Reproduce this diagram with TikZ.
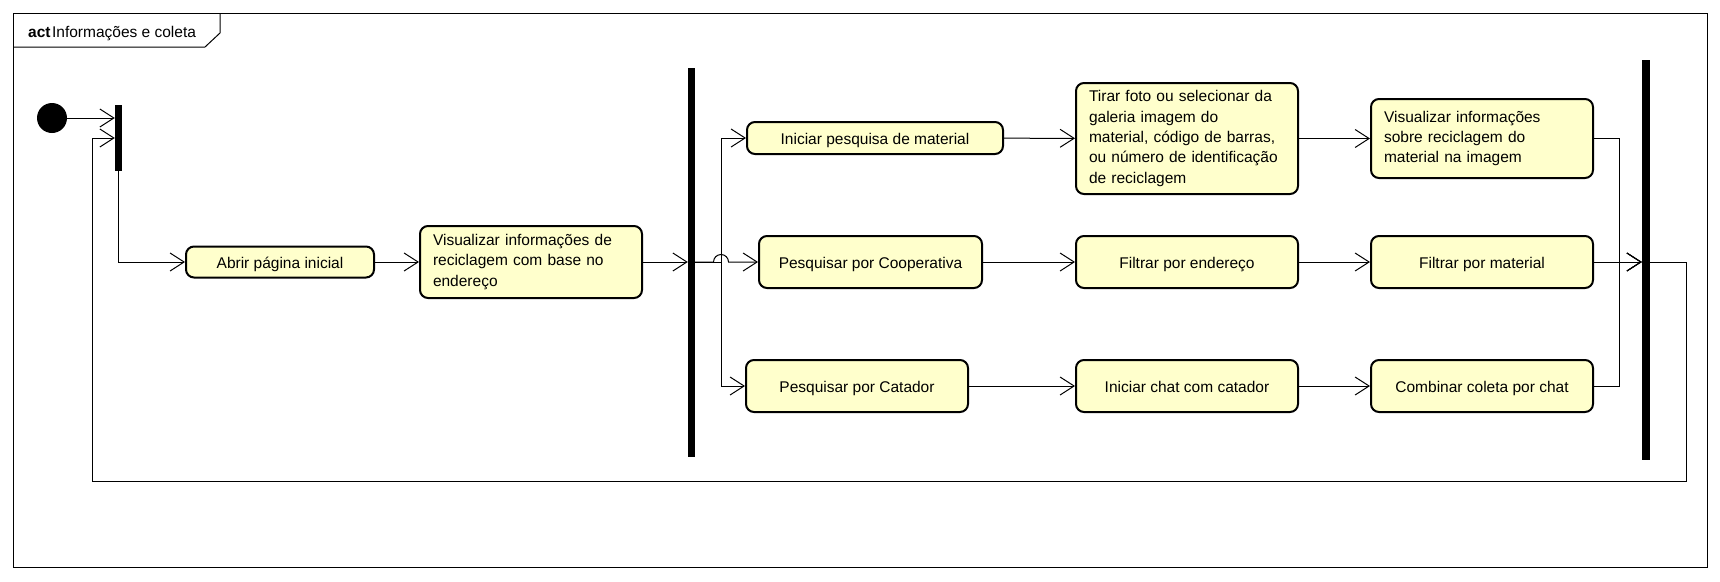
\documentclass[tikz,border=0pt]{standalone}
\usepackage{fontspec}
\setmainfont{Liberation Sans}
\usetikzlibrary{positioning, arrows.meta, calc}
\definecolor{actfill}{HTML}{FFFFCC}
\definecolor{actstroke}{HTML}{000000}

\begin{document}
\begin{tikzpicture}[
    x=1pt, y=-1pt,
    action/.style={
        draw=actstroke, fill=actfill, rounded corners=8pt,
        minimum height=52pt, inner sep=0pt, line width=2pt,
        font=\fontsize{15.5}{20.3}\selectfont, align=center,
        text height=12pt, text depth=0pt
    },
    multi/.style={
        draw=actstroke, fill=actfill, rounded corners=8pt,
        inner sep=0pt, line width=2pt,
        font=\fontsize{15.5}{20.3}\selectfont, align=left, text width=#1
    },
    bar/.style={
        fill=black, draw=none, inner sep=0pt, minimum width=7pt
    },
    flow/.style={
        -{Straight Barb[length=14pt, width=18pt]}, line width=1pt
    }
]
\useasboundingbox (0,0) rectangle (1720,581);
\fill[white] (0,0) rectangle (1720,581);

% Frame with title tab
\draw[line width=1pt] (13,13) rectangle (1707,567);
\draw[line width=1pt] (13,47) -- (205,47) -- (220,33) -- (220,13);
\node[anchor=base west, inner sep=0pt, font=\fontsize{15.5}{18}\selectfont] (title) at (28,37)
    {\textbf{act}\kern1.5ptInformações e coleta};

% Start and first fork
\node[circle, fill=black, minimum size=30pt, inner sep=0pt] (start) at (52,118) {};
\node[bar, minimum height=66pt] (fork1) at (118.5,138) {};

% Main line
\node[action, minimum width=188pt, minimum height=31pt] (abrir) at (280,262) {Abrir página inicial};
\node[multi=196pt, minimum width=222pt, minimum height=72pt] (visinfo) at (531,262)
    {Visualizar informações de\\reciclagem com base no\\endereço};

% Second fork
\node[bar, minimum height=389pt] (fork2) at (691.5,262.5) {};
\coordinate (split) at (721,262);

% Row 1: material
\node[action, minimum width=256pt, minimum height=32pt] (iniciar) at (875,138) {Iniciar pesquisa de material};
\node[multi=196pt, minimum width=222pt, minimum height=111pt] (tirar) at (1187,138.5)
    {Tirar foto ou selecionar da\\galeria imagem do\\material, código de barras,\\ou número de identificação\\de reciclagem};
\node[multi=196pt, minimum width=222pt, minimum height=79pt] (vissobre) at (1482,138.5)
    {Visualizar informações\\sobre reciclagem do\\material na imagem};

% Row 2: cooperativa
\node[action, minimum width=223pt] (coop) at (870.5,262) {Pesquisar por Cooperativa};
\node[action, minimum width=222pt] (endereco) at (1187,262) {Filtrar por endereço};
\node[action, minimum width=222pt] (material) at (1482,262) {Filtrar por material};

% Row 3: catador
\node[action, minimum width=222pt] (catador) at (857,386) {Pesquisar por Catador};
\node[action, minimum width=222pt] (chat) at (1187,386) {Iniciar chat com catador};
\node[action, minimum width=222pt] (combinar) at (1482,386) {Combinar coleta por chat};

% Join bar
\node[bar, minimum width=8pt, minimum height=400pt] (join) at (1646,260) {};
\coordinate (merge) at (1619,262);
\coordinate (loopR) at (1686,481);
\coordinate (loopL) at (92,481);

% Flows
\draw[flow] (start.east) -- (fork1.west |- start.east);
\draw[flow] (fork1.south) |- (abrir.west);
\draw[flow] (abrir) -- (visinfo);
\draw[flow] (visinfo.east) -- (fork2.west |- visinfo.east);

\draw[flow] (fork2.east |- split) -- (split) |- (iniciar.west);
\draw[flow] (fork2.east |- split) -- (713.5,262) arc (180:360:7.5) -- (coop.west);
\draw[flow] (fork2.east |- split) -- (split) |- (catador.west);

\draw[flow] (iniciar) -- (tirar);
\draw[flow] (tirar) -- (vissobre);
\draw[flow] (coop) -- (endereco);
\draw[flow] (endereco) -- (material);
\draw[flow] (catador) -- (chat);
\draw[flow] (chat) -- (combinar);

\draw[flow] (vissobre.east) -| (merge) -- (join.west |- merge);
\draw[flow] (material.east) -- (join.west |- merge);
\draw[flow] (combinar.east) -| (merge) -- (join.west |- merge);

% Loop back to the first fork
\draw[flow] (join.east |- merge) -| (loopR) -- (loopL) |- (fork1.west);

\end{tikzpicture}
\end{document}
